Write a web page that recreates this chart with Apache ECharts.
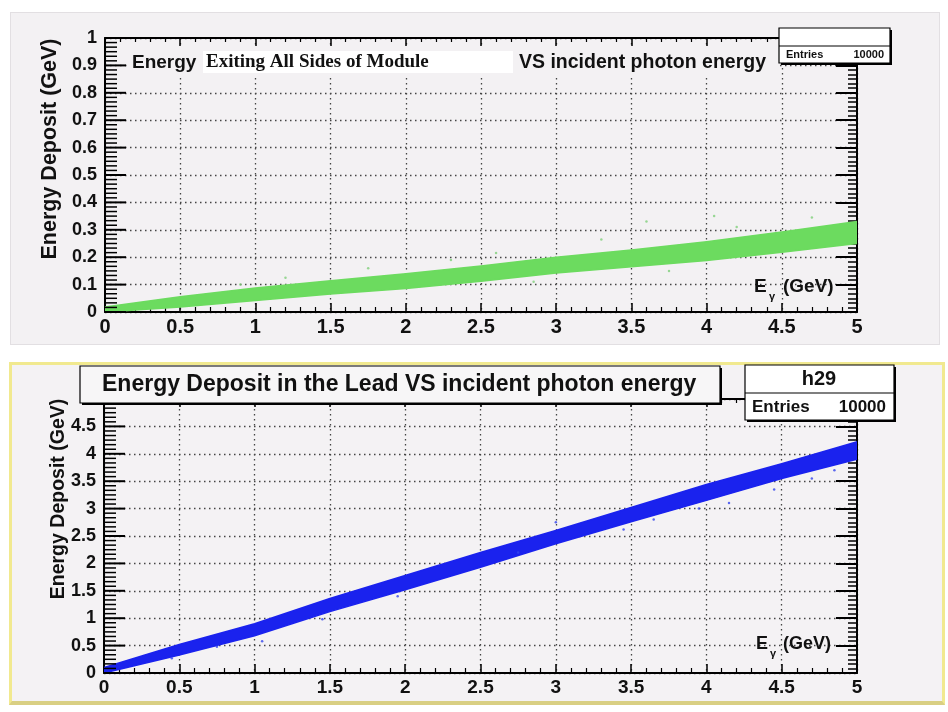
<!DOCTYPE html>
<html><head><meta charset="utf-8">
<script src="https://cdn.jsdelivr.net/npm/echarts/dist/echarts.min.js"></script>
<style>
html,body{margin:0;padding:0;background:#fff}
#wrap{position:relative;width:948px;height:712px}
#bg1{position:absolute;left:10px;top:12px;width:928px;height:331px;background:#f3f1f3;border:1px solid #e2dfe2}
#bg2{position:absolute;left:9px;top:362px;width:930px;height:336px;background:#f4f2f4;border:3px solid #f1e98f;border-bottom:4px solid #d9cf83}
#c{position:absolute;left:0;top:0;width:948px;height:712px}
</style>
</head><body><div id="wrap"><div id="bg1"></div><div id="bg2"></div><div id="c"></div></div>
<script>
// x positions (incident photon energy, GeV) where band edges were read
const energy = [0, 0.5, 1, 1.5, 2, 2.5, 3, 3.5, 4, 4.5, 5];
// top panel: energy exiting all sides of module (GeV)
const exitLow  = [0.000, 0.018, 0.042, 0.066, 0.086, 0.112, 0.142, 0.165, 0.188, 0.218, 0.250];
const exitHigh = [0.018, 0.056, 0.088, 0.114, 0.140, 0.168, 0.200, 0.226, 0.256, 0.292, 0.330];
const exitOutliers = [[0.9,0.1],[1.2,0.125],[1.75,0.16],[2.3,0.19],[2.6,0.215],[2.85,0.11],[3.3,0.265],[3.6,0.33],[3.75,0.15],[4.05,0.35],[4.2,0.31],[4.7,0.345]];
// bottom panel: energy deposit in the lead (GeV)
const leadLow  = [0.00, 0.33, 0.68, 1.12, 1.52, 1.93, 2.36, 2.76, 3.15, 3.55, 3.90];
const leadHigh = [0.10, 0.52, 0.90, 1.36, 1.78, 2.20, 2.60, 3.02, 3.44, 3.82, 4.22];
const leadOutliers = [[0.45,0.27],[0.75,0.48],[1.05,0.58],[1.45,0.98],[1.95,1.4],[2.75,2.2],[3.0,2.75],[3.45,2.62],[3.65,2.8],[3.95,3.0],[4.15,3.1],[4.45,3.35],[4.7,3.55],[4.85,3.7]];
// axis ranges / tick steps
const xRange = [0, 5], xStep = 0.5;
const yTopRange = [0, 1], yTopStep = 0.1;
const yBotRange = [0, 5], yBotStep = 0.5;
const yMinorDiv = 6;
const entries = '10000';
const histName = 'h29';

const FONT = '"Liberation Sans", Arial, Helvetica, sans-serif';
const PAD = '#f3f1f3';
const chart = echarts.init(document.getElementById('c'), null, {renderer: 'canvas'});

const TOP_RECT = {left: 105, top: 38, width: 752, height: 274};
const BOT_RECT = {left: 104, top: 399, width: 753, height: 274};

const HIDDEN = {show: false};
function helper(grid, range) {
  return {gridIndex: grid, type: 'value', min: range[0], max: range[1], show: false,
    axisLine: {show: false}, axisTick: HIDDEN, axisLabel: HIDDEN, splitLine: HIDDEN};
}
function mainX(grid, labelSize) {
  return {
    gridIndex: grid, type: 'value', min: xRange[0], max: xRange[1], interval: xStep,
    axisLine: {show: true, lineStyle: {color: '#000', width: 2}},
    axisTick: {show: true, inside: true, length: 9, lineStyle: {color: '#000', width: 1.5}},
    minorTick: {show: true, splitNumber: 5, length: 5, lineStyle: {color: '#000', width: 1.2}},
    splitLine: {show: true, lineStyle: {color: '#444', width: 1.3, type: [1.5, 3.5]}},
    axisLabel: {show: true, color: '#111', fontFamily: FONT, fontWeight: 'bold', fontSize: labelSize, margin: 5}
  };
}
function topX(grid) {
  return {
    gridIndex: grid, type: 'value', position: 'top', min: xRange[0], max: xRange[1], interval: xStep,
    axisLine: {show: true, lineStyle: {color: '#000', width: 2}},
    axisTick: {show: true, inside: true, length: 8, lineStyle: {color: '#000', width: 1.5}},
    minorTick: {show: true, splitNumber: 5, length: 4, lineStyle: {color: '#000', width: 1.2}},
    splitLine: HIDDEN, axisLabel: HIDDEN
  };
}
function mainY(grid, range, step, labelSize) {
  return {
    gridIndex: grid, type: 'value', min: range[0], max: range[1], interval: step,
    axisLine: {show: true, lineStyle: {color: '#000', width: 2}},
    axisTick: HIDDEN, minorTick: HIDDEN,
    splitLine: {show: true, lineStyle: {color: '#444', width: 1.3, type: [1.5, 3.5]}},
    axisLabel: {show: true, color: '#111', fontFamily: FONT, fontWeight: 'bold', fontSize: labelSize, margin: 8}
  };
}
function rightY(grid, range, step) {
  return {
    gridIndex: grid, type: 'value', position: 'right', min: range[0], max: range[1], interval: step,
    axisLine: {show: true, lineStyle: {color: '#000', width: 2}},
    axisTick: {show: true, inside: true, length: 21, lineStyle: {color: '#000', width: 2}},
    minorTick: {show: true, splitNumber: yMinorDiv, length: 9, lineStyle: {color: '#000', width: 1.5}},
    splitLine: HIDDEN, axisLabel: HIDDEN
  };
}
// inward tick marks of the left frame, placed through the y scale of the panel
function leftTicks(xi, yi, range, step) {
  return {
    type: 'custom', xAxisIndex: xi, yAxisIndex: yi, clip: false, z: 6, silent: true,
    data: [[xRange[0], range[0]]],
    renderItem: function (params, api) {
      const children = [];
      const n = Math.round((range[1] - range[0]) / step * yMinorDiv);
      for (let i = 0; i <= n; i++) {
        const v = range[0] + i * step / yMinorDiv;
        const p = api.coord([xRange[0], v]);
        const major = i % yMinorDiv === 0;
        children.push({type: 'line', shape: {x1: p[0], y1: p[1], x2: p[0] + (major ? 21 : 12), y2: p[1]},
          style: {stroke: '#000', lineWidth: major ? 2 : 1.5}});
      }
      return {type: 'group', children: children};
    }
  };
}
function band(xi, yi, low, high, color) {
  return {
    type: 'custom', xAxisIndex: xi, yAxisIndex: yi, clip: true, z: 3, silent: true,
    data: [[energy[0], low[0]]],
    renderItem: function (params, api) {
      const pts = [];
      for (let i = 0; i < energy.length; i++) pts.push(api.coord([energy[i], high[i]]));
      for (let i = energy.length - 1; i >= 0; i--) pts.push(api.coord([energy[i], low[i]]));
      return {type: 'polygon', shape: {points: pts}, style: {fill: color, stroke: color, lineWidth: 1.5, opacity: 1}};
    }
  };
}
function dots(xi, yi, data, color) {
  return {type: 'scatter', xAxisIndex: xi, yAxisIndex: yi, data: data, symbolSize: 2.5, itemStyle: {color: color}, z: 3, silent: true};
}
function txt(x, y, text, size) {
  return {type: 'text', x: x, y: y, z: 100,
    style: {text: text, font: 'bold ' + size + 'px ' + FONT, fill: '#111', textAlign: 'left', textVerticalAlign: 'middle'}};
}
function txtA(x, y, text, font, align, extra) {
  return Object.assign({type: 'text', x: x, y: y, z: 100,
    style: {text: text, font: font, fill: '#111', textAlign: align, textVerticalAlign: 'middle'}}, extra || {});
}
function rect(x, y, w, h, style, z) {
  return {type: 'rect', shape: {x: x, y: y, width: w, height: h}, style: style, z: z};
}

const graphic = [
  // top title
  rect(128, 48, 650, 27, {fill: PAD}, 90),
  txt(132, 63, 'Energy', 19),
  rect(203, 51, 310, 22, {fill: '#fff'}, 95),
  txtA(206, 62, 'Exiting All Sides of Module', 'bold 19px "Liberation Serif", "Times New Roman", serif', 'left'),
  txt(519, 63, 'VS incident photon energy', 19.5),
  // top stats box
  rect(781, 30, 111, 35, {fill: '#000'}, 96),
  rect(779, 28, 111, 35, {fill: '#fff', stroke: '#000', lineWidth: 1.2}, 97),
  {type: 'line', shape: {x1: 779, y1: 46, x2: 890, y2: 46}, style: {stroke: '#000', lineWidth: 1}, z: 98},
  txt(786, 55, 'Entries', 11),
  txtA(884, 55, entries, 'bold 11px ' + FONT, 'right'),
  // bottom title box
  rect(82, 368, 640, 37, {fill: '#000'}, 95),
  rect(80, 366, 640, 37, {fill: '#f7f6f7', stroke: '#000', lineWidth: 1.2}, 96),
  txt(102, 385, 'Energy Deposit in the Lead VS incident photon energy', 23),
  // bottom stats box
  rect(747, 367, 149, 55, {fill: '#000'}, 95),
  rect(745, 365, 149, 55, {fill: '#fff', stroke: '#000', lineWidth: 1.2}, 96),
  {type: 'line', shape: {x1: 745, y1: 393, x2: 894, y2: 393}, style: {stroke: '#000', lineWidth: 1.2}, z: 97},
  txtA(819, 379, histName, 'bold 20px ' + FONT, 'center'),
  txt(752, 407, 'Entries', 17),
  txtA(886, 407, entries, 'bold 17px ' + FONT, 'right'),
  // y-axis titles
  txtA(50, 149, 'Energy Deposit (GeV)', 'bold 21.5px ' + FONT, 'center', {rotation: Math.PI / 2}),
  txtA(59, 499, 'Energy Deposit (GeV)', 'bold 19.5px ' + FONT, 'center', {rotation: Math.PI / 2}),
  // x-axis titles
  txt(754, 287, 'E', 19), txt(769, 297, 'γ', 11), txt(783, 287, '(GeV)', 19),
  txt(756, 644, 'E', 18), txt(770, 654, 'γ', 11), txt(783, 644, '(GeV)', 18)
];

const option = {
  animation: false,
  // per panel: data grid, right-frame grid, top-frame grid
  grid: [TOP_RECT, TOP_RECT, TOP_RECT, BOT_RECT, BOT_RECT, BOT_RECT].map(r => Object.assign({show: false}, r)),
  xAxis: [
    mainX(0, 20),                 // 0
    helper(1, [-xRange[1], 0]),   // 1 zero on right edge
    topX(2),                      // 2
    mainX(3, 19),                 // 3
    helper(4, [-xRange[1], 0]),   // 4
    topX(5)                       // 5
  ],
  yAxis: [
    mainY(0, yTopRange, yTopStep, 18),   // 0
    rightY(1, yTopRange, yTopStep),      // 1
    helper(2, [-yTopRange[1], 0]),       // 2 zero on top edge
    mainY(3, yBotRange, yBotStep, 18),   // 3
    rightY(4, yBotRange, yBotStep),      // 4
    helper(5, [-yBotRange[1], 0])        // 5
  ],
  series: [
    band(0, 0, exitLow, exitHigh, '#6cdb5f'),
    dots(0, 0, exitOutliers, '#7fcf7a'),
    leftTicks(0, 0, yTopRange, yTopStep),
    band(3, 3, leadLow, leadHigh, '#1a22ee'),
    dots(3, 3, leadOutliers, '#3344ee'),
    leftTicks(3, 3, yBotRange, yBotStep)
  ],
  graphic: graphic
};
chart.setOption(option);
</script></body></html>
